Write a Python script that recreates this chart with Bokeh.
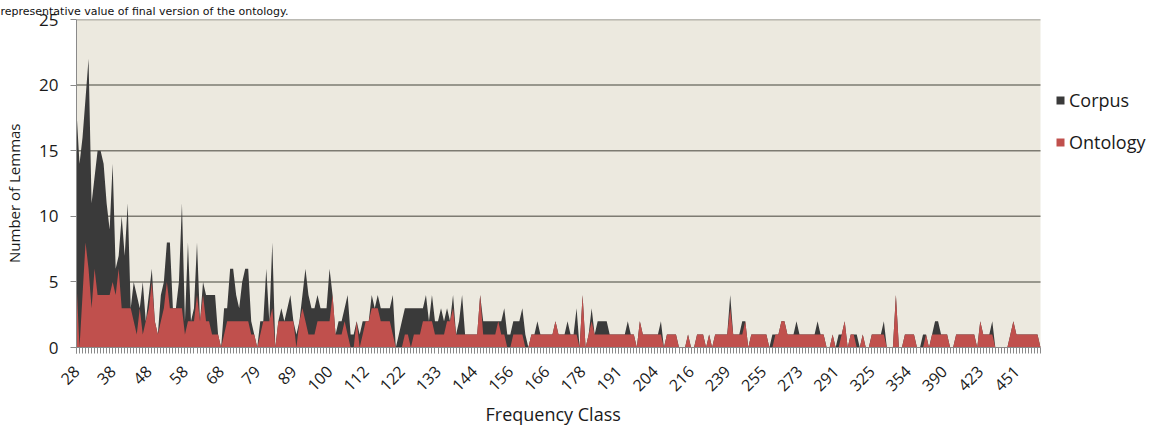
from math import pi
from bokeh.plotting import figure
from bokeh.models import (Range1d, FixedTicker, Legend, LegendItem,
                          ColumnDataSource, Title)
from bokeh.embed import file_html
from bokeh.resources import INLINE

# ---- data -------------------------------------------------------------
tick_labels = ["28", "38", "48", "58", "68", "79", "89", "100", "112", "122",
               "133", "144", "156", "166", "178", "191", "204", "216", "239",
               "255", "273", "291", "325", "354", "390", "423", "451"]
label_step = 12  # one label every 12 frequency classes

corpus = [
    18, 14, 16, 19, 22, 11, 13, 15, 15, 14, 11, 9,
    14, 6, 7, 10, 7, 11, 3, 5, 4, 3, 5, 2,
    4, 6, 2, 1, 4, 5, 8, 8, 3, 3, 5, 11,
    2, 8, 2, 3, 8, 2, 5, 4, 4, 4, 4, 1,
    0, 3, 3, 6, 6, 4, 3, 5, 6, 6, 2, 1,
    0, 2, 2, 6, 2, 8, 0, 2, 3, 2, 3, 4,
    2, 1, 2, 4, 6, 4, 3, 3, 4, 3, 3, 3,
    6, 4, 1, 2, 2, 3, 4, 1, 1, 2, 1, 2,
    2, 2, 4, 3, 4, 3, 3, 3, 3, 4, 0, 1,
    2, 3, 3, 3, 3, 3, 3, 3, 4, 2, 4, 2,
    2, 3, 2, 3, 2, 4, 1, 2, 4, 1, 1, 1,
    1, 1, 4, 2, 2, 2, 2, 2, 2, 2, 3, 1,
    1, 2, 2, 2, 3, 1, 0, 1, 1, 2, 1, 1,
    1, 1, 1, 2, 1, 1, 1, 2, 1, 1, 3, 0,
    4, 0, 1, 3, 1, 2, 2, 2, 2, 1, 1, 1,
    1, 1, 1, 2, 1, 1, 0, 2, 1, 1, 1, 1,
    1, 1, 2, 0, 1, 1, 1, 1, 0, 0, 0, 1,
    0, 0, 1, 1, 1, 0, 1, 0, 1, 1, 1, 1,
    1, 4, 1, 1, 1, 2, 2, 0, 1, 1, 1, 1,
    1, 1, 0, 1, 1, 1, 2, 2, 1, 1, 1, 2,
    1, 1, 1, 1, 1, 1, 2, 1, 1, 0, 0, 1,
    0, 1, 1, 2, 0, 1, 1, 1, 0, 1, 0, 0,
    1, 1, 1, 1, 2, 0, 0, 0, 4, 0, 0, 1,
    1, 1, 1, 0, 0, 1, 1, 0, 1, 2, 2, 1,
    1, 1, 0, 0, 1, 1, 1, 1, 1, 1, 1, 0,
    2, 1, 1, 1, 2, 0, 0, 0, 0, 0, 1, 2,
    1, 1, 1, 1, 1, 1, 1, 1, 0,
]

ontology = [
    5, 0, 4, 8, 6, 3, 6, 4, 4, 4, 4, 4,
    5, 4, 6, 3, 3, 3, 3, 2, 1, 3, 1, 2,
    3, 5, 2, 1, 2, 3, 5, 3, 3, 3, 3, 3,
    1, 2, 2, 2, 4, 2, 4, 2, 2, 1, 1, 1,
    0, 1, 2, 2, 2, 2, 2, 2, 2, 2, 1, 1,
    0, 1, 2, 2, 2, 3, 0, 2, 2, 2, 2, 2,
    2, 0, 2, 3, 2, 1, 1, 1, 2, 2, 2, 2,
    2, 4, 1, 1, 1, 2, 1, 0, 0, 2, 0, 1,
    2, 2, 3, 3, 3, 2, 2, 2, 2, 1, 0, 0,
    0, 1, 1, 0, 1, 1, 1, 2, 2, 2, 2, 1,
    1, 1, 1, 2, 2, 3, 1, 1, 1, 1, 1, 1,
    1, 1, 4, 1, 1, 1, 1, 1, 2, 1, 1, 0,
    0, 1, 1, 1, 1, 0, 0, 1, 1, 1, 1, 1,
    1, 1, 1, 2, 1, 1, 1, 1, 1, 1, 1, 0,
    4, 0, 1, 2, 1, 1, 1, 1, 1, 1, 1, 1,
    1, 1, 1, 1, 1, 1, 0, 2, 1, 1, 1, 1,
    1, 1, 1, 0, 1, 1, 1, 1, 0, 0, 0, 1,
    0, 0, 1, 1, 1, 0, 1, 0, 1, 1, 1, 1,
    1, 3, 1, 1, 1, 1, 2, 0, 1, 1, 1, 1,
    1, 1, 0, 0, 1, 1, 2, 2, 1, 1, 1, 1,
    1, 1, 1, 1, 1, 1, 1, 1, 1, 0, 0, 1,
    0, 0, 1, 2, 0, 1, 1, 0, 0, 1, 0, 0,
    1, 1, 1, 1, 1, 0, 0, 0, 4, 0, 0, 1,
    1, 1, 1, 0, 0, 0, 1, 0, 1, 1, 1, 1,
    1, 1, 0, 0, 1, 1, 1, 1, 1, 1, 1, 0,
    2, 1, 1, 1, 1, 0, 0, 0, 0, 0, 1, 2,
    1, 1, 1, 1, 1, 1, 1, 1, 0,
]

y_ticks = [0, 5, 10, 15, 20, 25]
caption = "representative value of final version of the ontology."

# ---- layout constants -------------------------------------------------
W, H = 1157, 425
LEFT, TOP, BOTTOM = 76, 17, 77
PLOT_W = 964           # width of the cream plotting area
n = len(corpus)
xs = list(range(n))
tick_pos = [i * label_step for i in range(len(tick_labels))]
frame_w = W - LEFT
x_end = (n - 1) * frame_w / PLOT_W   # frame extends right to host the legend

FONT = "Open Sans"
GRAY = "#8a8a8a"
TXT = "#1a1a1a"
CREAM = "#ECE9DF"
NB = "\u00a0"

p = figure(width=W, height=H, output_backend="svg", toolbar_location=None,
           x_range=Range1d(0, x_end), y_range=Range1d(0, y_ticks[-1]),
           min_border_left=LEFT, min_border_right=0, min_border_top=TOP,
           min_border_bottom=BOTTOM)
p.background_fill_color = "white"
p.border_fill_color = "white"
p.outline_line_color = None

# caption line of the surrounding document (top-left)
p.title.text = caption
p.title.text_font = "DejaVu Sans"
p.title.text_font_size = "11px"
p.title.text_font_style = "normal"
p.title.text_color = "#111111"
p.title.align = "left"
p.title.offset = -LEFT
p.title.standoff = 4

# cream plotting area and horizontal gridlines
p.quad(left=xs[0], right=xs[-1], bottom=y_ticks[0], top=y_ticks[-1],
       fill_color=CREAM, line_color=None)
p.segment(x0=[xs[0]] * (len(y_ticks) - 1), x1=[xs[-1]] * (len(y_ticks) - 1),
          y0=y_ticks[1:], y1=y_ticks[1:], line_color="#7d7b72", line_width=1.5)

src = ColumnDataSource(dict(x=xs, c=corpus, o=ontology))
rc = p.varea(x="x", y1=0, y2="c", source=src, fill_color="#3A3A3A")
ro = p.varea(x="x", y1=0, y2="o", source=src, fill_color="#C0504D")

p.xgrid.grid_line_color = None
p.ygrid.grid_line_color = None

# y axis
ya = p.yaxis[0]
ya.ticker = FixedTicker(ticks=y_ticks)
ya.axis_label = "Number of Lemmas" + NB * 5
ya.axis_label_text_font = FONT
ya.axis_label_text_font_size = "15px"
ya.axis_label_text_font_style = "normal"
ya.axis_label_text_color = TXT
ya.axis_label_standoff = 12
ya.major_label_text_font = FONT
ya.major_label_text_font_size = "17px"
ya.major_label_text_color = TXT
ya.major_label_standoff = 12
ya.axis_line_color = GRAY
ya.major_tick_line_color = GRAY
ya.major_tick_out = 6
ya.major_tick_in = 0
ya.minor_tick_line_color = None

# x axis
xa = p.xaxis[0]
xa.bounds = (xs[0], xs[-1])
xa.ticker = FixedTicker(ticks=tick_pos, minor_ticks=xs)
xa.major_label_overrides = {pos: lab for pos, lab in zip(tick_pos, tick_labels)}
xa.major_label_orientation = pi / 4
xa.major_label_text_font = FONT
xa.major_label_text_font_size = "16px"
xa.major_label_text_color = TXT
xa.major_label_standoff = 15
xa.axis_label = None
xa.axis_line_color = GRAY
xa.major_tick_line_color = GRAY
xa.minor_tick_line_color = GRAY
xa.major_tick_out = 6
xa.major_tick_in = 0
xa.minor_tick_out = 6
xa.minor_tick_in = 0

# x axis title, placed under the cream area (not the wider frame)
xtitle = Title(text="Frequency Class", align="left", offset=409, standoff=0,
               text_font=FONT, text_font_size="18px", text_font_style="normal",
               text_color=TXT)
p.add_layout(xtitle, "below")

# legend, to the right of the cream area
legend = Legend(items=[LegendItem(label="Corpus", renderers=[rc]),
                       LegendItem(label="Ontology", renderers=[ro])],
                location=(PLOT_W + 15, 193))
legend.border_line_color = None
legend.background_fill_alpha = 0
legend.padding = 0
legend.margin = 0
legend.spacing = 18
legend.glyph_width = 10
legend.glyph_height = 10
legend.label_height = 20
legend.label_standoff = 4
legend.label_text_font = FONT
legend.label_text_font_size = "18px"
legend.label_text_color = TXT
p.add_layout(legend)

open("out.html", "w").write(file_html(p, INLINE))
